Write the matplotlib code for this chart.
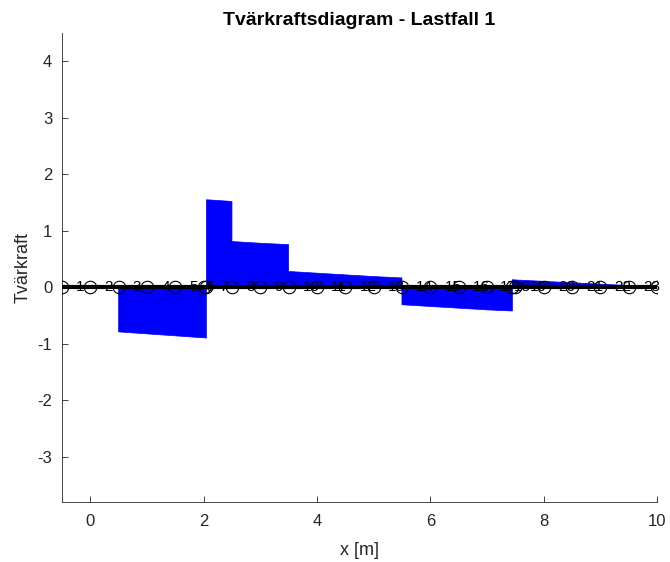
import matplotlib
matplotlib.use('Agg')
import matplotlib.pyplot as plt

plt.rcParams['font.family'] = ['Liberation Sans', 'DejaVu Sans']
plt.rcParams['axes.unicode_minus'] = False

# Node coordinates along the beam [m]
nodes = [-0.5, 0.0, 0.5, 1.0, 1.5, 2.0, 2.05, 2.5, 3.0, 3.5, 4.0, 4.5,
         5.0, 5.5, 6.0, 6.5, 7.0, 7.45, 7.5, 8.0, 8.5, 9.0, 9.5, 10.0]

# Shear force at start / end of each element
v_start = [0.0, 0.0, -0.79, -0.825, -0.86, -0.895, 1.55, 0.81, 0.78, 0.28, 0.25, 0.22,
           0.19, -0.31, -0.34, -0.37, -0.40, 0.135, 0.13, 0.105, 0.08, 0.055, 0.03]
v_end = [0.0, 0.0, -0.825, -0.86, -0.895, -0.90, 1.52, 0.78, 0.755, 0.25, 0.22, 0.19,
         0.165, -0.34, -0.37, -0.40, -0.42, 0.13, 0.105, 0.08, 0.055, 0.03, 0.005]

fig = plt.figure(figsize=(6.7, 5.62), dpi=100)
ax = fig.add_axes([0.0925, 0.107, 0.888, 0.834])

# Shear diagram as one outline: along the element values, back along the beam
px = [nodes[0]]
py = [0.0]
for i in range(len(v_start)):
    px += [nodes[i], nodes[i + 1]]
    py += [v_start[i], v_end[i]]
px += [nodes[-1]]
py += [0.0]
ax.fill(px, py, facecolor='#0000ff', edgecolor='#0000ff', linewidth=0.5, zorder=2)

# Beam with nodes
ax.plot(nodes, [0] * len(nodes), color='k', linewidth=3, zorder=3)
ax.plot(nodes, [0] * len(nodes), linestyle='none', marker='o', markersize=9,
        markerfacecolor='none', markeredgecolor='k', markeredgewidth=0.8, zorder=4)

# Element numbers at element midpoints (crowded near x=7.5, as in the original)
for i in range(len(v_start)):
    xm = (nodes[i] + nodes[i + 1]) / 2
    ax.text(xm, 0, str(i + 1), ha='left', va='center', fontsize=11, color='k', zorder=5)

ax.set_xlim(-0.5, 10)
ax.set_ylim(-3.8, 4.5)
ax.set_xticks([0, 2, 4, 6, 8, 10])
ax.set_yticks([-3, -2, -1, 0, 1, 2, 3, 4])

for side in ['top', 'right']:
    ax.spines[side].set_visible(False)
for side in ['left', 'bottom']:
    ax.spines[side].set_color('#262626')
    ax.spines[side].set_linewidth(0.6)
ax.tick_params(direction='in', colors='#262626', labelsize=12, length=4, width=0.6)
ax.tick_params(axis='x', pad=9)
ax.tick_params(axis='y', pad=7)

ax.set_xlabel('x [m]', fontsize=13, color='#262626', labelpad=9)
ax.set_ylabel('Tvärkraft', fontsize=13, color='#262626', labelpad=4)
ax.set_title('Tvärkraftsdiagram - Lastfall 1', fontsize=14, fontweight='bold')

fig.savefig('out.png', dpi=100)
